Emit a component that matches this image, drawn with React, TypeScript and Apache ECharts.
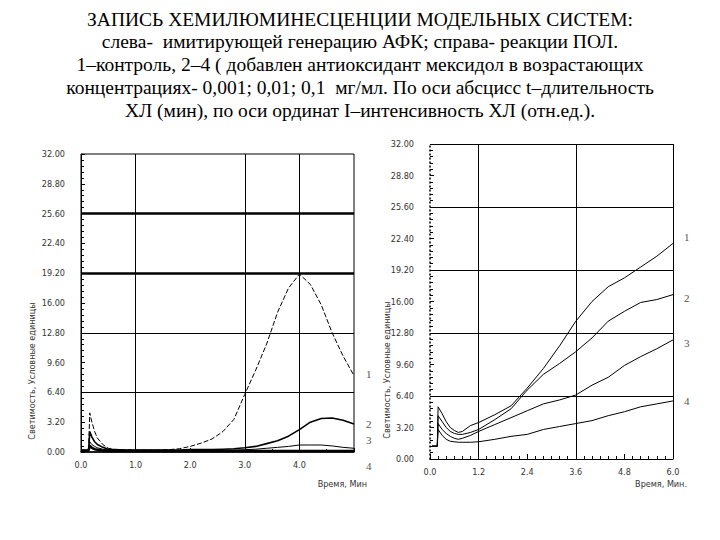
import React, { useEffect, useRef } from "react";
import * as echarts from "echarts";

const TITLE_LINES = [
  "ЗАПИСЬ ХЕМИЛЮМИНЕСЦЕНЦИИ МОДЕЛЬНЫХ СИСТЕМ:",
  "слева-  имитирующей генерацию АФК; справа- реакции ПОЛ.",
  "1–контроль, 2–4 ( добавлен антиоксидант мексидол в возрастающих",
  "концентрациях- 0,001; 0,01; 0,1  мг/мл. По оси абсцисс t–длительность",
  "ХЛ (мин), по оси ординат I–интенсивность ХЛ (отн.ед.).",
];

const Y_AXIS_NAME = "Светимость, Условные единицы";
const X_AXIS_NAME_LEFT = "Время, Мин";
const X_AXIS_NAME_RIGHT = "Время, Мин.";
const CURVE_NAMES = ["1", "2", "3", "4"];

// Left panel (generation of ROS)
const LEFT_T = [0, 0.1, 0.14, 0.16, 0.2, 0.25, 0.3, 0.4, 0.5, 0.6, 0.8, 1.0, 1.2, 1.4, 1.6, 1.8, 2.0, 2.2, 2.4, 2.6, 2.8, 3.0, 3.2, 3.4, 3.6, 3.8, 4.0, 4.2, 4.4, 4.6, 4.8, 5.0];
const LEFT_C1 = [0.2, 0.2, 0.3, 4.2, 3.2, 2.2, 1.5, 0.8, 0.4, 0.3, 0.25, 0.2, 0.2, 0.2, 0.25, 0.35, 0.6, 0.95, 1.4, 2.2, 3.5, 6.2, 8.8, 11.6, 15.0, 17.6, 19.1, 18.0, 15.8, 12.8, 10.3, 8.2];
const LEFT_C2 = [0.15, 0.15, 0.2, 2.2, 1.6, 1.1, 0.8, 0.5, 0.3, 0.25, 0.2, 0.2, 0.2, 0.2, 0.2, 0.2, 0.25, 0.25, 0.25, 0.3, 0.35, 0.45, 0.6, 0.9, 1.2, 1.7, 2.4, 3.2, 3.6, 3.65, 3.4, 3.0];
const LEFT_C3 = [0.1, 0.1, 0.15, 1.1, 0.8, 0.6, 0.45, 0.3, 0.2, 0.18, 0.15, 0.15, 0.15, 0.15, 0.15, 0.15, 0.15, 0.15, 0.18, 0.18, 0.2, 0.25, 0.3, 0.4, 0.5, 0.6, 0.75, 0.75, 0.75, 0.65, 0.5, 0.4];
const LEFT_C4 = [0.15, 0.15, 0.2, 0.7, 0.45, 0.3, 0.25, 0.15, 0.12, 0.12, 0.12, 0.12, 0.12, 0.12, 0.12, 0.12, 0.12, 0.12, 0.12, 0.12, 0.12, 0.12, 0.12, 0.12, 0.12, 0.12, 0.12, 0.12, 0.12, 0.12, 0.12, 0.12];

// Right panel (lipid peroxidation)
const RIGHT_T = [0.05, 0.18, 0.2, 0.3, 0.4, 0.5, 0.6, 0.7, 0.8, 1.0, 1.2, 1.6, 2.0, 2.4, 2.8, 3.2, 3.6, 4.0, 4.4, 4.8, 5.2, 5.6, 6.0];
const RIGHT_C1 = [1.3, 1.3, 5.3, 4.6, 3.8, 3.2, 2.9, 2.7, 2.8, 3.4, 3.7, 4.5, 5.4, 7.2, 9.2, 11.5, 14.0, 16.0, 17.5, 18.4, 19.5, 20.6, 21.9];
const RIGHT_C2 = [1.3, 1.3, 4.4, 3.8, 3.2, 2.8, 2.6, 2.5, 2.5, 2.7, 3.0, 4.0, 5.1, 7.0, 8.6, 9.7, 10.9, 12.3, 14.0, 15.0, 15.9, 16.2, 16.7];
const RIGHT_C3 = [1.3, 1.3, 3.6, 3.0, 2.6, 2.3, 2.1, 2.0, 2.1, 2.4, 2.8, 3.5, 4.2, 4.9, 5.6, 6.0, 6.5, 7.5, 8.3, 9.5, 10.4, 11.2, 12.1];
const RIGHT_C4 = [1.3, 1.3, 3.0, 2.4, 2.0, 1.8, 1.75, 1.7, 1.7, 1.7, 1.75, 2.0, 2.3, 2.5, 3.0, 3.3, 3.6, 3.9, 4.4, 4.8, 5.3, 5.6, 5.9];

const LEFT_HLINES = [25.6, 19.2, 12.8, 6.4];
const LEFT_VLINES = [1, 3, 4];
const RIGHT_HLINES = [25.6, 19.2, 12.8, 6.4, 32];
const RIGHT_VLINES = [1.2, 3.6, 6.0];

const pairs = (t: number[], v: number[]) => t.map((x, i) => [x, v[i]]);

const TICK_FONT = "DejaVu Sans Condensed";
const SERIF_FONT = "Liberation Serif";

export default function App() {
  const ref = useRef<HTMLDivElement>(null);
  useEffect(() => {
    if (!ref.current) return;
    const chart = echarts.init(ref.current, undefined, { renderer: "svg" });

    const axisLabel = (digits: number) => ({
      fontFamily: TICK_FONT,
      fontSize: 9,
      color: "#333",
      margin: 16,
      formatter: (v: number) => v.toFixed(digits),
    });

    const yAxisBase = {
      type: "value",
      min: 0,
      max: 32,
      interval: 3.2,
      splitLine: { show: false },
      axisTick: { show: true, inside: true, length: 4, lineStyle: { color: "#000" } },
      minorTick: { show: true, splitNumber: 5, length: 3, lineStyle: { color: "#000" } },
      axisLabel: axisLabel(2),
    };

    const leftMark = {
      silent: true,
      symbol: "none",
      label: { show: false },
      animation: false,
      data: [
        ...LEFT_HLINES.map((v, i) => ({ yAxis: v, lineStyle: { color: "#000", type: "solid", width: i < 2 ? 2.5 : 1 } })),
        ...LEFT_VLINES.map((v) => ({ xAxis: v, lineStyle: { color: "#000", type: "solid", width: 1 } })),
      ],
    };
    const rightMark = {
      silent: true,
      symbol: "none",
      label: { show: false },
      animation: false,
      data: [
        ...RIGHT_HLINES.map((v) => ({ yAxis: v, lineStyle: { color: "#000", type: "solid", width: 1 } })),
        ...RIGHT_VLINES.map((v) => ({ xAxis: v, lineStyle: { color: "#000", type: "solid", width: 1 } })),
      ],
    };

    const endLabel = (name: string, dx: number, dy: number) => ({
      show: true,
      formatter: name,
      offset: [dx, dy],
      fontFamily: SERIF_FONT,
      fontSize: 11,
      color: "#555",
    });

    const leftStyles = [
      { width: 1, type: [5, 2] },
      { width: 1.6, type: "solid" },
      { width: 1, type: "solid" },
      { width: 2.5, type: "solid" },
    ];
    const leftData = [LEFT_C1, LEFT_C2, LEFT_C3, LEFT_C4];
    const leftOffsets = [[4, -2], [4, 0], [4, -8], [4, 15]];
    const rightData = [RIGHT_C1, RIGHT_C2, RIGHT_C3, RIGHT_C4];
    const rightOffsets = [[3, -6], [3, 3], [3, 3], [3, 0]];

    const series: any[] = [];
    leftData.forEach((d, i) => {
      series.push({
        type: "line",
        name: "L" + CURVE_NAMES[i],
        xAxisIndex: 0,
        yAxisIndex: 0,
        data: pairs(LEFT_T, d),
        showSymbol: false,
        lineStyle: { color: "#000", ...leftStyles[i] },
        endLabel: endLabel(CURVE_NAMES[i], leftOffsets[i][0], leftOffsets[i][1]),
        markLine: i === 0 ? leftMark : undefined,
        z: 3,
      });
    });
    rightData.forEach((d, i) => {
      series.push({
        type: "line",
        name: "R" + CURVE_NAMES[i],
        xAxisIndex: 1,
        yAxisIndex: 1,
        data: pairs(RIGHT_T, d),
        showSymbol: false,
        lineStyle: { color: "#000", width: 1 },
        endLabel: endLabel(CURVE_NAMES[i], rightOffsets[i][0], rightOffsets[i][1]),
        markLine: i === 0 ? rightMark : undefined,
        z: 3,
      });
    });

    const titles = TITLE_LINES.map((line, i) => ({
      text: line,
      left: "center",
      top: 8 + i * 22.8,
      padding: 0,
      textStyle: { fontFamily: SERIF_FONT, fontSize: 19.5, fontWeight: "normal", color: "#000", lineHeight: 22 },
    }));

    const smallStyle = { fontFamily: TICK_FONT, fontSize: 9, fill: "#333" };
    const graphics: any[] = [
      {
        type: "text",
        x: 32,
        y: 371,
        rotation: Math.PI / 2,
        style: { text: Y_AXIS_NAME, ...smallStyle, textAlign: "center", textVerticalAlign: "middle" },
      },
      {
        type: "text",
        x: 387,
        y: 370,
        rotation: Math.PI / 2,
        style: { text: Y_AXIS_NAME, ...smallStyle, textAlign: "center", textVerticalAlign: "middle" },
      },
      {
        type: "text",
        x: 367,
        y: 484,
        style: { text: X_AXIS_NAME_LEFT, ...smallStyle, textAlign: "right", textVerticalAlign: "middle" },
      },
      {
        type: "text",
        x: 687,
        y: 484,
        style: { text: X_AXIS_NAME_RIGHT, ...smallStyle, textAlign: "right", textVerticalAlign: "middle" },
      },
    ];

    chart.setOption({
      animation: false,
      backgroundColor: "#fff",
      title: titles,
      grid: [
        { left: 81, top: 154, width: 273, height: 298, show: true, borderColor: "#000", borderWidth: 1, backgroundColor: "transparent" },
        { left: 430, top: 144, width: 243, height: 315, show: false },
      ],
      xAxis: [
        {
          type: "value",
          gridIndex: 0,
          min: 0,
          max: 5,
          interval: 1,
          splitLine: { show: false },
          axisLine: { lineStyle: { color: "#000", width: 1.5 } },
          axisTick: { show: true, inside: true, length: 4, lineStyle: { color: "#000" } },
          minorTick: { show: true, splitNumber: 2, length: 3, lineStyle: { color: "#000" } },
          axisLabel: { ...axisLabel(1), margin: 8, showMaxLabel: false },
        },
        {
          type: "value",
          gridIndex: 1,
          min: 0,
          max: 6,
          interval: 1.2,
          splitLine: { show: false },
          axisLine: { lineStyle: { color: "#000", width: 1 } },
          axisTick: { show: true, inside: true, length: 5, lineStyle: { color: "#000" } },
          minorTick: { show: true, splitNumber: 6, length: 3, lineStyle: { color: "#000" } },
          axisLabel: { ...axisLabel(1), margin: 8 },
        },
      ],
      yAxis: [
        { ...yAxisBase, gridIndex: 0, axisLine: { show: true, lineStyle: { color: "#000", width: 1 } } },
        {
          ...yAxisBase,
          gridIndex: 1,
          axisLine: { show: true, lineStyle: { color: "#000", width: 1.5, type: [1, 3] } },
        },
      ],
      series,
      graphic: graphics,
    });

    return () => chart.dispose();
  }, []);

  return (
    <div
      ref={ref}
      style={{ position: "fixed", left: 0, top: 0, width: 720, height: 540, background: "#fff" }}
    />
  );
}
